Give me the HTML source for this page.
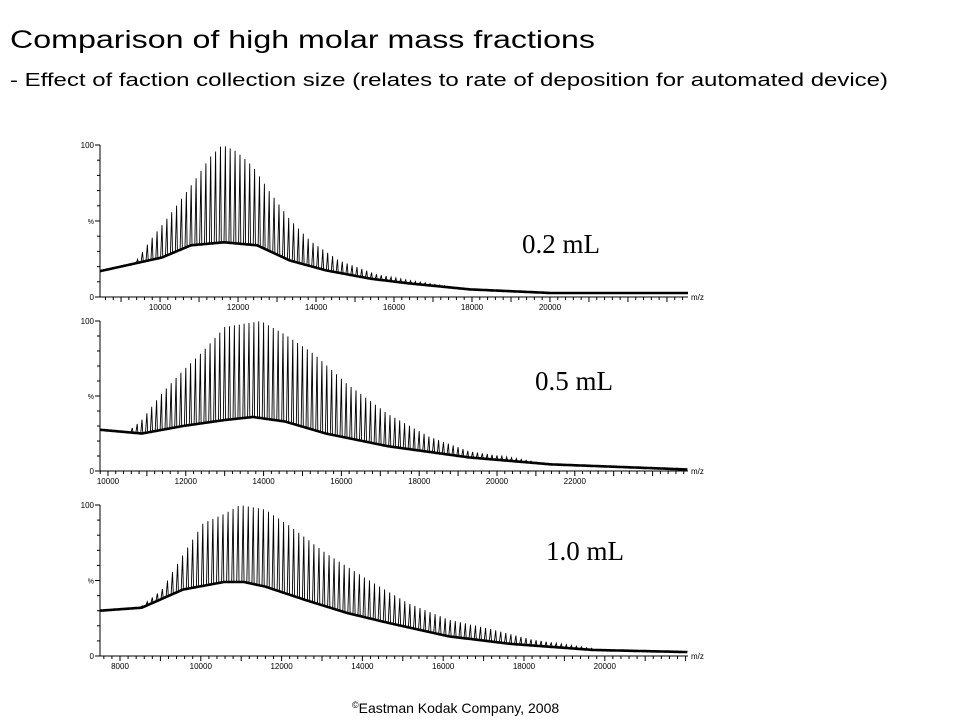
<!DOCTYPE html>
<html><head><meta charset="utf-8"><style>
html,body{margin:0;padding:0;background:#fff;}
svg{display:block;font-family:"Liberation Sans",Arial,sans-serif;}
</style></head><body>
<svg id="root" width="960" height="720" viewBox="0 0 960 720">
<text x="10" y="48" font-size="25" textLength="585" lengthAdjust="spacingAndGlyphs">Comparison of high molar mass fractions</text>
<text x="10" y="86" font-size="18" textLength="878" lengthAdjust="spacingAndGlyphs">- Effect of faction collection size (relates to rate of deposition for automated device)</text>
<text x="352" y="713" font-size="14"><tspan font-size="9" dy="-5">©</tspan><tspan dy="5">Eastman Kodak Company, 2008</tspan></text>
<g id="charts"></g>
</svg>
<script>
// Panel 1 (0.2 mL)
const p1BaseMass=[8460,10050,10790,11640,12490,13330,14260,15410,16360,17950,20050,23540];
const p1BaseVal=[17,26,34,36,34,24,17.5,12,9,5,2.6,2.6];
const p1PeakMass=[9300,9740,10280,10590,10950,11280,11590,11950,12380,12790,13330,13850,14590,15540,16360,17410,17900];
const p1PeakVal=[20,37,55,66,79,92,100,96,86,70,51,37,24,15,11,7,5];
const p1Ticks=[10000,12000,14000,16000,18000,20000];
// Panel 2 (0.5 mL)
const p2BaseMass=[9795,10870,11930,13000,13730,14550,15600,17200,19300,21400,24910];
const p2BaseVal=[27.5,25,30,34,36,33,25,16.5,9,4.4,1];
const p2PeakMass=[10500,10870,11390,11930,12450,13000,13930,14550,15300,16150,17200,18250,19300,20350,21000];
const p2PeakVal=[26,34,52,67,80,96,100,91,78,58,38,23,13,9,6];
const p2Ticks=[10000,12000,14000,16000,18000,20000,22000];
// Panel 3 (1.0 mL)
const p3BaseMass=[7505,8540,9560,10570,11070,11590,12600,13620,14630,16140,17680,19710,22060];
const p3BaseVal=[30,32,44,49,49,46,37,28.5,22,13,8,4,2.6];
const p3PeakMass=[8300,8540,9040,9560,10060,10570,10970,11590,12210,13100,14110,15130,16140,17150,18170,19180,19700];
const p3PeakVal=[31,33,44,67,88,94,100,97,86,68,51,35,24,18,11,7,5];
const p3Ticks=[8000,10000,12000,14000,16000,18000,20000];
const peakSpacing=125;

const panels=[
 {name:'0.2ml',top:145,bot:297,m0:8460,m1:23540,bm:p1BaseMass,bv:p1BaseVal,pm:p1PeakMass,pv:p1PeakVal,ticks:p1Ticks,label:'0.2 mL',lx:522,ly:253},
 {name:'0.5ml',top:321,bot:471,m0:9795,m1:24910,bm:p2BaseMass,bv:p2BaseVal,pm:p2PeakMass,pv:p2PeakVal,ticks:p2Ticks,label:'0.5 mL',lx:535,ly:390},
 {name:'1.0ml',top:505,bot:656,m0:7505,m1:22060,bm:p3BaseMass,bv:p3BaseVal,pm:p3PeakMass,pv:p3PeakVal,ticks:p3Ticks,label:'1.0 mL',lx:546,ly:560}
];
const NS='http://www.w3.org/2000/svg';
const root=document.getElementById('charts');
const X0=100,X1=688;
function mk(tag,attrs,parent){const e=document.createElementNS(NS,tag);for(const k in attrs)e.setAttribute(k,attrs[k]);parent.appendChild(e);return e;}
function lerp(ms,vs,m){if(m<=ms[0])return vs[0];for(let i=1;i<ms.length;i++){if(m<=ms[i]){const t=(m-ms[i-1])/(ms[i]-ms[i-1]);return vs[i-1]+t*(vs[i]-vs[i-1]);}}return vs[vs.length-1];}
panels.forEach(p=>{
 const g=mk('g',{},root);
 
 
 const xs=m=>X0+(m-p.m0)/(p.m1-p.m0)*(X1-X0);
 const ys=v=>p.bot-v/100*(p.bot-p.top);
 // axes
 const ya=mk('line',{x1:X0,y1:p.top,x2:X0,y2:p.bot,stroke:'#000','stroke-width':1},g);
 
 
 const xa=mk('line',{x1:X0,y1:p.bot,x2:X1,y2:p.bot,stroke:'#000','stroke-width':1},g);
 
 
 for(let v=0;v<=100;v+=10){const major=(v%50===0);mk('line',{x1:X0-(major?5:3),y1:ys(v),x2:X0,y2:ys(v),stroke:'#000','stroke-width':1},g);}
 const l100=mk('text',{x:X0-6,y:ys(100)+3,'font-size':8,'text-anchor':'end'},g);l100.textContent='100';
 
 
 const l0=mk('text',{x:X0-6,y:ys(0)+3,'font-size':8,'text-anchor':'end'},g);l0.textContent='0';
 
 
 const lp=mk('text',{x:X0-6,y:ys(50)+3,'font-size':7,'text-anchor':'end'},g);lp.textContent='%';
 
 
 for(let m=Math.ceil(p.m0/200)*200;m<=p.m1;m+=200){const major=(m%1000===0);mk('line',{x1:xs(m),y1:p.bot,x2:xs(m),y2:p.bot+(major?5:3),stroke:'#000','stroke-width':1},g);}
 p.ticks.forEach(t=>{const tx=mk('text',{x:xs(t),y:p.bot+13,'font-size':8,'text-anchor':'middle'},g);tx.textContent=t;
  
  });
 const mz=mk('text',{x:X1+3,y:p.bot+3,'font-size':8},g);mz.textContent='m/z';
 
 
 // baseline band
 let d='';
 for(let m=p.m0;m<=p.m1;m+=20){d+=(d?'L':'M')+xs(m).toFixed(1)+','+ys(lerp(p.bm,p.bv,m)).toFixed(1);}
 const bl=mk('path',{d:d,fill:'none',stroke:'#000','stroke-width':2.6},g);
 
 
 // peaks
 let pd='';
 const pStart=p.pm[0],pEnd=p.pm[p.pm.length-1];
 for(let m=pStart;m<=pEnd;m+=peakSpacing){
  const b=lerp(p.bm,p.bv,m),h=lerp(p.pm,p.pv,m);
  if(h<=b)continue;
  pd+='M'+xs(m-35).toFixed(1)+','+ys(b).toFixed(1)+'L'+xs(m).toFixed(1)+','+ys(h).toFixed(1)+'L'+xs(m+20).toFixed(1)+','+ys(b).toFixed(1);
 }
 const pk=mk('path',{d:pd,fill:'none',stroke:'#000','stroke-width':0.9},g);
 
 
 const lb=mk('text',{x:p.lx,y:p.ly,'font-size':27,'font-family':'Liberation Serif, serif'},g);lb.textContent=p.label;
 
 
});
</script>
</body></html>
